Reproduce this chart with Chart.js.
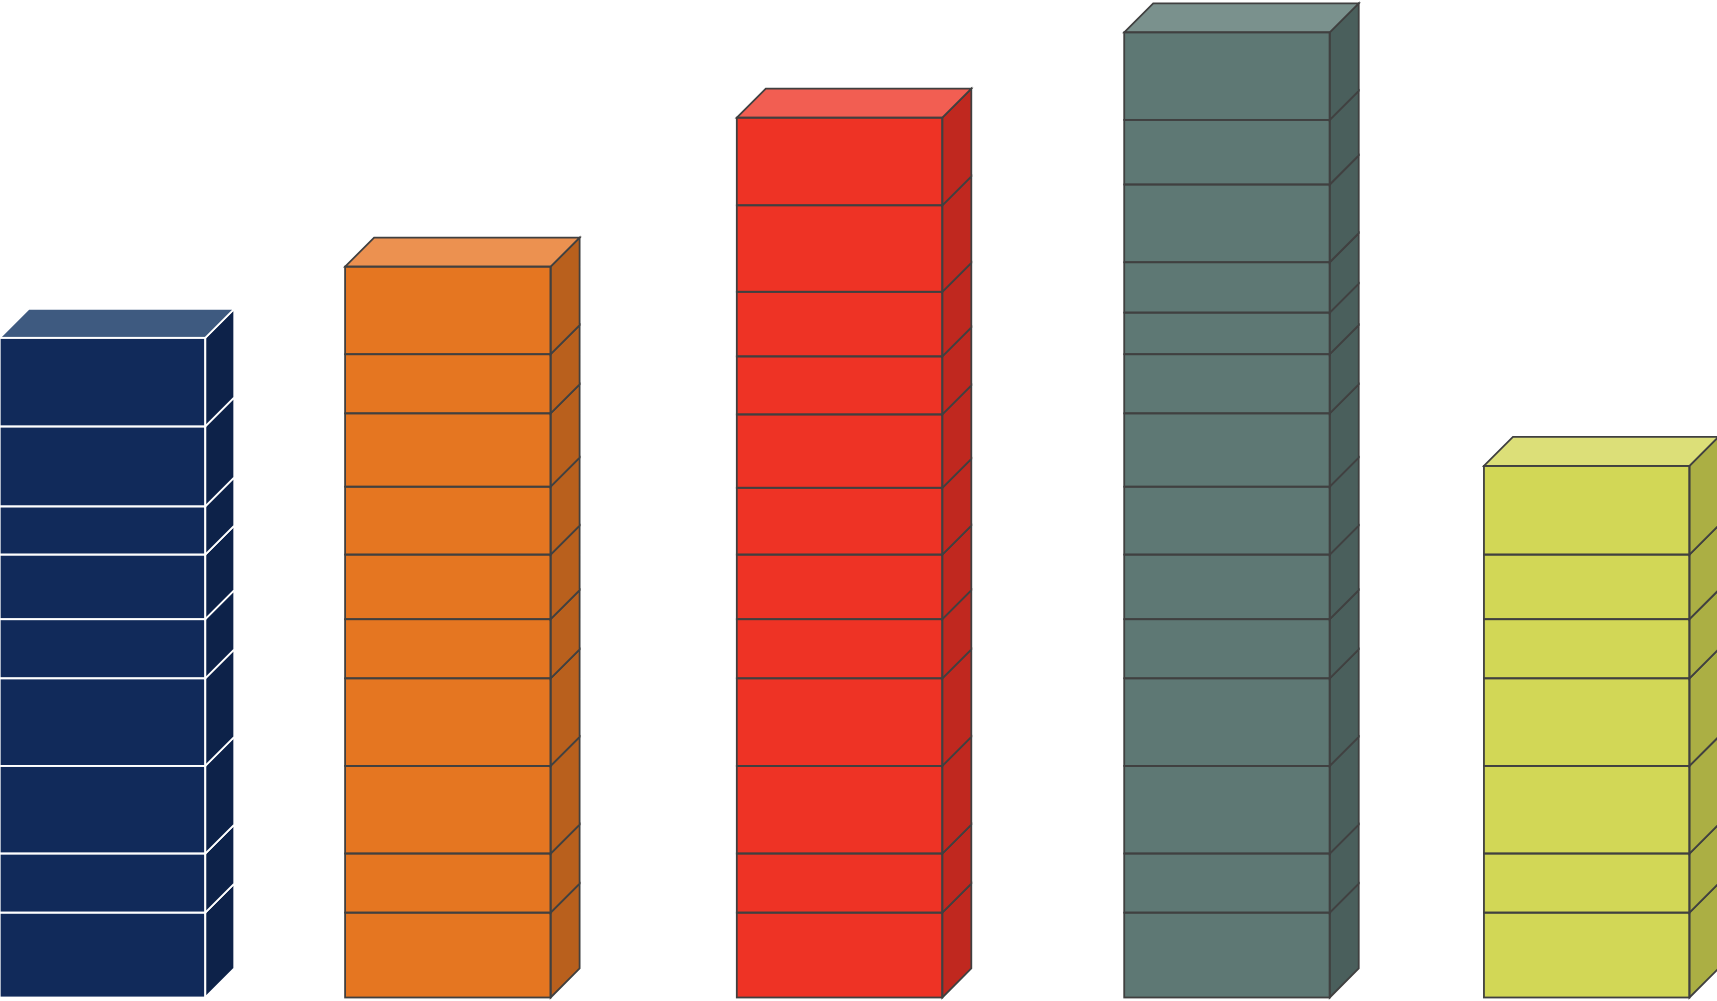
<!DOCTYPE html>
<html>
<head>
<meta charset="utf-8">
<script src="https://cdn.jsdelivr.net/npm/chart.js@4/dist/chart.umd.min.js"></script>
<style>
  html, body { margin: 0; padding: 0; background: #ffffff; overflow: hidden; }
  #wrap { width: 1717px; height: 1001px; position: relative; }
</style>
</head>
<body>
<div id="wrap"><canvas id="c"></canvas></div>
<script>
// ---- data ----
const categories = ['Bar 1', 'Bar 2', 'Bar 3', 'Bar 4', 'Bar 5'];
const barPositions = [93.6, 409, 766.7, 1120.5, 1449];
const segmentsBar1 = [77.5, 54, 80, 80, 54, 59, 44, 73, 81];
const segmentsBar2 = [77.5, 54, 80, 80, 54, 59, 62, 67, 54, 80];
const segmentsBar3 = [77.5, 54, 80, 80, 54, 59, 61, 67, 53, 59, 79, 80];
const segmentsBar4 = [77.5, 54, 80, 80, 54, 59, 62, 67, 54, 38, 46, 71, 59, 80];
const segmentsBar5 = [77.5, 54, 80, 80, 54, 59, 81];
const allSegments = [segmentsBar1, segmentsBar2, segmentsBar3, segmentsBar4, segmentsBar5];

// ---- styles ----
const frontColors = ['#112A5A', '#E57621', '#EE3325', '#5E7874', '#D2D756'];
const topColors   = ['#3E5A80', '#EC9150', '#F25E52', '#7A918D', '#DCDF78'];
const sideColors  = ['#0D2249', '#B9601D', '#C0281F', '#4A5F5C', '#ABAF44'];
const lineColors  = ['#FFFFFF', '#404040', '#404040', '#404040', '#404040'];
const DX = 29, DY = 29;

const datasets = allSegments.map((segs, bi) => {
  let acc = 0;
  const data = segs.map(v => { const s = acc; acc += v; return { x: barPositions[bi], y: [s, acc] }; });
  return {
    label: categories[bi],
    data,
    backgroundColor: frontColors[bi],
    borderWidth: 0,
    grouped: false,
    barThickness: 205.5
  };
});

const cubePlugin = {
  id: 'cube',
  afterDatasetsDraw(chart) {
    const ctx = chart.ctx;
    ctx.save();
    ctx.lineJoin = 'miter';
    chart.data.datasets.forEach((ds, di) => {
      const meta = chart.getDatasetMeta(di);
      const n = meta.data.length;
      meta.data.forEach((bar, i) => {
        const p = bar.getProps(['x', 'y', 'base', 'width'], true);
        const l = p.x - p.width / 2, r = p.x + p.width / 2;
        const top = Math.min(p.y, p.base), bot = Math.max(p.y, p.base);
        ctx.lineWidth = 1.8;
        ctx.strokeStyle = lineColors[di];
        // side face
        ctx.beginPath();
        ctx.moveTo(r, bot);
        ctx.lineTo(r + DX, bot - DY);
        ctx.lineTo(r + DX, top - DY);
        ctx.lineTo(r, top);
        ctx.closePath();
        ctx.fillStyle = sideColors[di];
        ctx.fill();
        ctx.stroke();
        // top face
        if (i === n - 1) {
          ctx.beginPath();
          ctx.moveTo(l, top);
          ctx.lineTo(l + DX, top - DY);
          ctx.lineTo(r + DX, top - DY);
          ctx.lineTo(r, top);
          ctx.closePath();
          ctx.fillStyle = topColors[di];
          ctx.fill();
          ctx.stroke();
        }
        // front outline
        ctx.strokeRect(l, top, r - l, bot - top);
      });
    });
    ctx.restore();
  }
};

new Chart(document.getElementById('c'), {
  type: 'bar',
  data: { datasets },
  options: {
    responsive: true,
    maintainAspectRatio: false,
    animation: false,
    layout: { padding: { top: 0, left: 0, right: 0, bottom: 3.5 } },
    plugins: { legend: { display: false }, tooltip: { enabled: false } },
    scales: {
      x: { type: 'linear', min: 0, max: 1568, offset: false, display: false },
      y: { min: 0, max: 911, display: false }
    }
  },
  plugins: [cubePlugin]
});
</script>
</body>
</html>
